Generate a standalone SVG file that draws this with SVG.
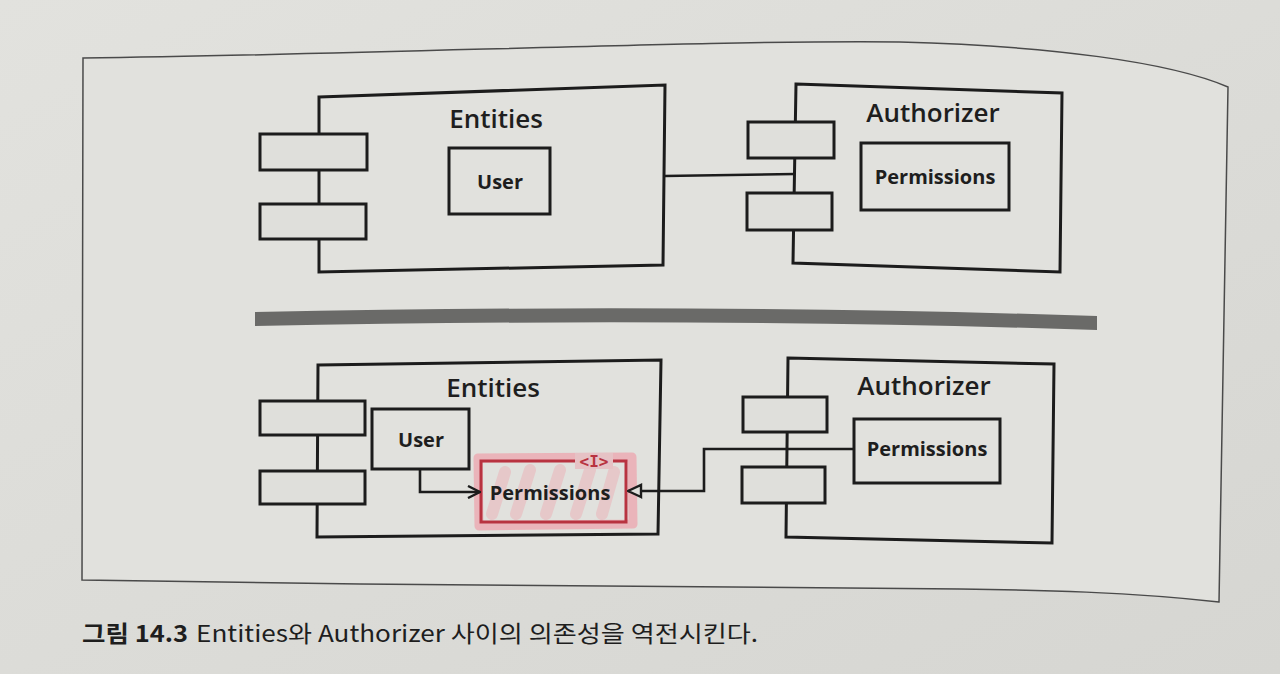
<svg xmlns="http://www.w3.org/2000/svg" width="1280" height="674" viewBox="0 0 1280 674">
  <defs>
    <linearGradient id="bg" x1="0" y1="0" x2="1" y2="1">
      <stop offset="0" stop-color="#e2e2de"/>
      <stop offset="1" stop-color="#d6d6d2"/>
    </linearGradient>
    <marker id="open" viewBox="0 0 14 14" refX="13" refY="7" markerWidth="14" markerHeight="14" markerUnits="userSpaceOnUse" orient="auto">
      <path d="M1,1 L13,7 L1,13" fill="none" stroke="#1c1c1c" stroke-width="2.4"/>
    </marker>
    <marker id="tri" viewBox="0 0 16 16" refX="15" refY="8" markerWidth="16" markerHeight="16" markerUnits="userSpaceOnUse" orient="auto">
      <path d="M2,2 L15,8 L2,14 Z" fill="#e0e0dc" stroke="#1c1c1c" stroke-width="2.4"/>
    </marker>
  </defs>
  <style>
    .box { fill: none; stroke: #1c1c1c; stroke-width: 3; stroke-linejoin: miter; }
    .port { fill: #dfdfdb; stroke: #1c1c1c; stroke-width: 3; }
    .inner { fill: none; stroke: #1c1c1c; stroke-width: 3; }
    .title { font-family: "Open Sans", "Noto Sans", sans-serif; font-size: 26px; font-weight: 600; fill: #1e1e1e; text-anchor: middle; }
    .label { font-family: "Open Sans", "Noto Sans", sans-serif; font-size: 20px; font-weight: 700; fill: #1e1e1e; text-anchor: middle; }
    .conn { fill: none; stroke: #1c1c1c; stroke-width: 2.6; }
    .cap { font-family: "Noto Sans CJK KR", "Noto Sans", sans-serif; font-size: 23px; fill: #1e1e1e; }
  </style>

  <rect x="0" y="0" width="1280" height="674" fill="url(#bg)"/>

  <!-- frame -->
  <path id="frame" d="M83,58 C400,54 700,40 900,42 C1050,46 1170,62 1228,87 L1219,602 C1130,592 1040,590 960,589 L360,584 L82,580 Z" fill="#e1e1dd" stroke="#4a4a4a" stroke-width="1.5"/>

  <!-- divider -->
  <path id="divider" d="M255,312 Q700,303 1097,316 L1097,330 Q700,317 255,326 Z" fill="#6a6a68"/>

  <!-- top diagram -->
  <g id="top-entities">
    <polygon class="box" points="319,97 665,85 663,265 319,272"/>
    <rect class="port" x="260" y="134" width="107" height="36"/>
    <rect class="port" x="260" y="204" width="106" height="35"/>
    <text class="title" x="496" y="128">Entities</text>
  </g>
  <g id="top-user">
    <rect class="inner" x="449" y="148" width="101" height="66"/>
    <text class="label" x="500" y="189">User</text>
  </g>
  <g id="top-authorizer">
    <polygon class="box" points="796,84 1062,93 1060,272 793,263"/>
    <rect class="port" x="748" y="122" width="86" height="36"/>
    <rect class="port" x="747" y="193" width="85" height="37"/>
    <text class="title" x="933" y="122">Authorizer</text>
  </g>
  <g id="top-permissions">
    <rect class="inner" x="861" y="143" width="148" height="67"/>
    <text class="label" x="935" y="184">Permissions</text>
  </g>

  <!-- bottom diagram -->
  <g id="bottom-entities">
    <polygon class="box" points="318,365 661,360 658,534 317,537"/>
    <rect class="port" x="260" y="401" width="105" height="34"/>
    <rect class="port" x="260" y="471" width="105" height="33"/>
    <text class="title" x="493" y="397">Entities</text>
  </g>
  <g id="bottom-user">
    <rect class="inner" x="372" y="409" width="97" height="60"/>
    <text class="label" x="421" y="447">User</text>
  </g>
  <g id="bottom-permissions-interface">
    <path d="M478,458 L632,457 L633,524 L479,526 Z" fill="none" stroke="#f2909c" stroke-width="9" stroke-opacity="0.55" stroke-linejoin="round"/>
    <path d="M492,514 L505,472 M516,514 L530,470 M546,514 L560,470 M576,514 L590,470 M602,514 L614,472" fill="none" stroke="#f2909c" stroke-width="12" stroke-opacity="0.3" stroke-linecap="round"/>
    <rect x="481" y="461" width="145" height="61" fill="none" stroke="#b83340" stroke-width="3"/>
    <rect x="575" y="453" width="38" height="16" fill="#e6c2c5"/>
    <text x="594" y="467" font-family="'DejaVu Sans Mono', 'Liberation Mono', monospace" font-size="16" font-weight="bold" fill="#b83340" text-anchor="middle">&lt;I&gt;</text>
    <text class="label" x="550" y="500">Permissions</text>
  </g>
  <g id="bottom-authorizer">
    <polygon class="box" points="788,358 1054,364 1052,543 786,537"/>
    <rect class="port" x="743" y="397" width="84" height="35"/>
    <rect class="port" x="742" y="467" width="83" height="36"/>
    <text class="title" x="924" y="395">Authorizer</text>
  </g>
  <g id="bottom-permissions">
    <rect class="inner" x="854" y="419" width="146" height="64"/>
    <text class="label" x="927" y="456">Permissions</text>
  </g>

  <!-- connectors -->
  <g id="connectors">
    <line class="conn" x1="664" y1="176" x2="795" y2="174"/>
    <path class="conn" d="M420,469 V492 H480" marker-end="url(#open)"/>
    <path class="conn" d="M854,449 H704 V491 H628" marker-end="url(#tri)"/>
  </g>

  <!-- caption -->
  <g id="caption">
    <text class="cap" x="82" y="642" font-weight="bold" textLength="106" lengthAdjust="spacingAndGlyphs">그림 14.3</text>
    <text class="cap" x="196" y="642" textLength="562" lengthAdjust="spacingAndGlyphs">Entities와 Authorizer 사이의 의존성을 역전시킨다.</text>
  </g>
</svg>
